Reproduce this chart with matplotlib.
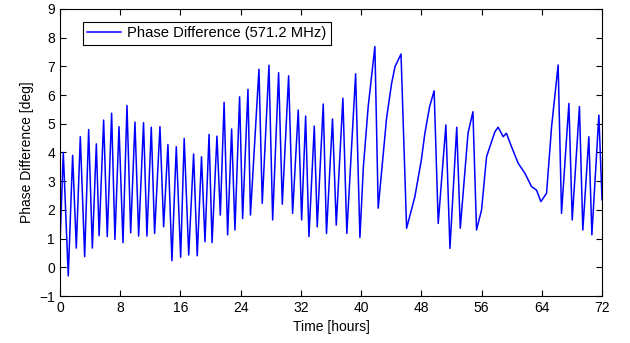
import matplotlib.pyplot as plt

plt.rcParams['font.family'] = ['Liberation Sans', 'DejaVu Sans']

# peaks / troughs
time_h = [0.0, 0.44, 1.1, 1.68, 2.17, 2.7, 3.28, 3.81, 4.3, 4.83, 5.2, 5.8, 6.28, 6.86,
          7.3, 7.84, 8.37, 8.9, 9.39, 9.96, 10.45, 11.1, 11.55, 12.13, 12.57, 13.28,
          13.77, 14.34, 14.87, 15.45, 16.03, 16.5, 17.1, 17.75, 18.23, 18.8, 19.26,
          19.8, 20.2, 20.85, 21.3, 21.8, 22.27, 22.8, 23.24, 23.86, 24.26, 24.97, 25.3,
          26.43, 26.87, 27.76, 28.25, 29.04, 29.53, 30.37, 30.9, 31.65, 32.1, 32.63,
          33.07, 33.78, 34.17, 34.97, 35.4, 36.2, 36.7, 37.58, 38.1, 39.27, 39.84,
          40.3, 40.94, 41.83, 42.27, 43.38, 44.05, 44.5, 45.3, 46.04, 47.14, 48.0,
          48.47, 49.1, 49.7, 50.24, 51.26, 51.8, 52.7, 53.17, 54.2, 54.85, 55.33,
          56.0, 56.66, 57.1, 57.77, 58.2, 58.87, 59.3, 59.98, 60.87, 61.75, 62.64,
          63.3, 63.88, 64.63, 65.3, 66.17, 66.62, 67.6, 68.04, 69.0, 69.45, 70.25,
          70.65, 71.58, 72.0]
phase_deg = [0.8, 4.0, -0.3, 3.9, 0.67, 4.55, 0.37, 4.8, 0.67, 4.3, 1.1, 5.13, 1.07, 5.37,
             0.97, 4.9, 0.86, 5.64, 1.2, 5.06, 1.09, 5.04, 1.09, 4.88, 1.18, 4.9,
             1.41, 4.28, 0.23, 4.2, 0.35, 4.49, 0.43, 3.95, 0.4, 3.85, 0.89,
             4.63, 0.86, 4.57, 1.82, 5.75, 1.13, 4.82, 1.3, 5.94, 1.7, 6.2, 1.82,
             6.9, 2.23, 7.04, 1.65, 6.78, 2.2, 6.67, 1.88, 5.48, 1.65, 5.27,
             1.07, 4.92, 1.41, 5.69, 1.18, 5.17, 1.47, 5.89, 1.18, 6.74, 1.04,
             3.5, 5.6, 7.69, 2.06, 5.19, 6.41, 6.99, 7.43, 1.36, 2.46, 3.74,
             4.67, 5.6, 6.15, 1.53, 4.96, 0.66, 4.88, 1.36, 4.67, 5.42, 1.3,
             2.0, 3.85, 4.2, 4.72, 4.88, 4.55, 4.67, 4.2, 3.62, 3.28, 2.81,
             2.69, 2.29, 2.58, 4.9, 7.05, 1.88, 5.71, 1.65, 5.6, 1.3, 4.55,
             1.13, 5.3, 2.35]

fig = plt.figure(figsize=(6.3, 3.43), dpi=100)
ax = fig.add_axes([0.0952, 0.137, 0.8604, 0.8368])
ax.plot(time_h, phase_deg, color='#0000ff', linewidth=1.1,
        label='Phase Difference (571.2 MHz)')

ax.set_xlim(0, 72)
ax.set_ylim(-1, 9)
ax.set_xticks(range(0, 73, 8))
ax.set_yticks(range(-1, 10))
ax.tick_params(direction='in', top=True, right=True, labelsize=10, length=4)
ax.set_xlabel('Time [hours]', fontsize=10)
ax.set_ylabel('Phase Difference [deg]', fontsize=10)

leg = ax.legend(loc='upper left', bbox_to_anchor=(0.042, 0.955), fontsize=10.6,
                fancybox=False, framealpha=1, edgecolor='black',
                handlelength=2.3, handletextpad=0.4, borderpad=0.3,
                borderaxespad=0)
leg.get_frame().set_linewidth(0.8)

fig.savefig('out.png', dpi=100)
